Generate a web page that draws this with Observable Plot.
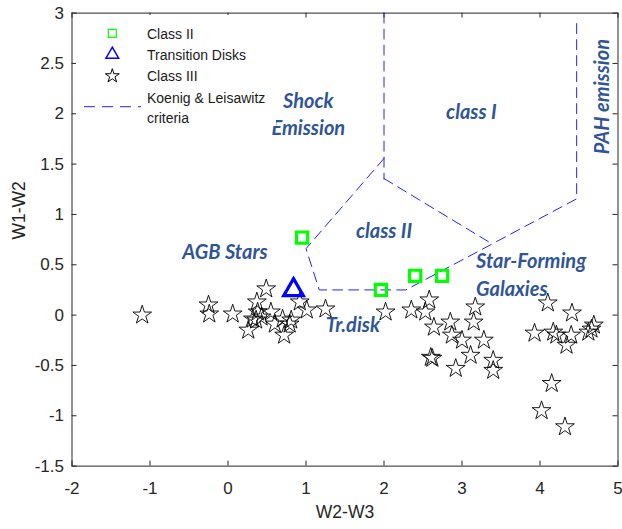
<!DOCTYPE html>
<html><head><meta charset="utf-8">
<script src="https://cdn.jsdelivr.net/npm/d3@7"></script>
<script src="https://cdn.jsdelivr.net/npm/@observablehq/plot@0.6"></script>
<style>body{margin:0;background:#fff} #chart{width:622px;height:529px;position:relative}</style>
</head><body><div id="chart"></div>
<script>
// ---- data ----
const xTicks = [-2, -1, 0, 1, 2, 3, 4, 5];
const xTickLabels = ["-2", "-1", "0", "1", "2", "3", "4", "5"];
const yTicks = [-1.5, -1, -0.5, 0, 0.5, 1, 1.5, 2, 2.5, 3];
const yTickLabels = ["-1.5", "-1", "-0.5", "0", "0.5", "1", "1.5", "2", "2.5", "3"];

const class2X = [0.95, 1.96, 2.40, 2.745];
const class2Y = [0.77, 0.25, 0.39, 0.39];

const tdX = [0.84];
const tdY = [0.25];

const starX = [-1.10, -0.25, -0.24, 0.06, 0.49, 0.37, 0.26, 0.32, 0.38, 0.43, 0.36, 0.55, 0.60, 0.70, 0.72, 0.79, 0.81, 0.92, 1.01, 1.25,
  2.02, 2.35, 2.53, 2.58, 2.64, 2.85, 2.87, 3.00, 3.17, 3.15, 3.28, 3.11, 2.62, 2.60, 2.92, 3.40, 3.40,
  4.10, 4.41, 3.93, 4.17, 4.21, 4.34, 4.40, 4.62, 4.69, 4.66, 4.15, 4.02, 4.32];
const starY = [0.00, 0.10, 0.01, 0.01, 0.26, 0.13, -0.15, -0.04, 0.03, -0.02, -0.05, 0.03, -0.09, -0.04, -0.20, -0.09, -0.05, 0.13, 0.05, 0.06,
  0.03, 0.05, 0.03, 0.15, -0.12, -0.07, -0.20, -0.25, 0.08, -0.07, -0.25, -0.40, -0.43, -0.42, -0.53, -0.45, -0.55,
  0.12, 0.02, -0.18, -0.17, -0.20, -0.30, -0.20, -0.17, -0.10, -0.14, -0.68, -0.95, -1.11];

// Koenig & Leisawitz criteria boundaries (polyline id, x, y)
const lineSeg = [0, 0, 1, 1, 2, 2, 2, 2, 2, 2, 2];
const lineX = [2, 2, 2, 3.38, 2, 1.0, 1.17, 2.28, 3.38, 4.47, 4.47];
const lineY = [3, 1.35, 1.357, 0.71, 1.556, 0.66, 0.25, 0.25, 0.704, 1.155, 2.93];

const regionLabels = ["Shock", "Emission", "class I", "class II", "AGB Stars", "Tr.disk"];
const regionX = [1.03, 1.03, 3.12, 2.0, -0.04, 1.60];
const regionY = [2.12, 1.85, 2.01, 0.83, 0.62, -0.10];
const sfLabels = ["Star-Forming", "Galaxies"];
const sfX = [3.18, 3.18];
const sfY = [0.535, 0.25];
const pahLabel = ["PAH emission"];
const pahX = [4.80];
const pahY = [2.17];

const legendLabels = ["Class II", "Transition Disks", "Class III", "Koenig & Leisawitz", "criteria"];

// ---- chart ----
const W = 622, H = 529;
const mL = 71.5, mR = 4.5, mT = 12.6, mB = 63.4;
const innerW = W - mL - mR, innerH = H - mT - mB;
const axisColor = "#262626";
const labelColor = "#2F5597";
const labelFont = "Lato, 'Open Sans', sans-serif";
const labelSize = 20;

const lineData = lineX.map((x, i) => ({x, y: lineY[i], seg: lineSeg[i]}));
const stars = starX.map((x, i) => ({x, y: starY[i]}));
const c2 = class2X.map((x, i) => ({x, y: class2Y[i]}));
const td = tdX.map((x, i) => ({x, y: tdY[i]}));

const chart = Plot.plot({
  width: W, height: H,
  marginLeft: mL, marginRight: mR, marginTop: mT, marginBottom: mB,
  x: {domain: [-2, 5]},
  y: {domain: [-1.5, 3]},
  style: {background: "#fff", fontFamily: "'Liberation Sans', Arial, sans-serif"},
  marks: [
    Plot.axisX(xTicks, {tickSize: 0, tickPadding: 16, tickFormat: d => xTickLabels[xTicks.indexOf(d)], fontSize: 17, fill: axisColor, label: null}),
    Plot.axisY(yTicks, {tickSize: 0, tickPadding: 8, tickFormat: d => yTickLabels[yTicks.indexOf(d)], fontSize: 17, fill: axisColor, label: null}),
    // inward ticks on all four sides
    Plot.ruleX(xTicks, {x: d => d, insetTop: innerH - 5, stroke: axisColor}),
    Plot.ruleX(xTicks, {x: d => d, insetBottom: innerH - 5, stroke: axisColor}),
    Plot.ruleY(yTicks, {y: d => d, insetRight: innerW - 5, stroke: axisColor}),
    Plot.ruleY(yTicks, {y: d => d, insetLeft: innerW - 5, stroke: axisColor}),
    Plot.line(lineData, {x: "x", y: "y", z: "seg", stroke: "#2222ff", strokeWidth: 1, strokeDasharray: "10,6"}),
    Plot.dot(stars, {x: "x", y: "y", symbol: "star", r: 5.9, stroke: "#000", fill: "none", strokeWidth: 0.9}),
    Plot.dot(c2, {x: "x", y: "y", symbol: "square", r: 6.3, stroke: "#00ff00", fill: "none", strokeWidth: 3.2}),
    Plot.dot(td, {x: "x", y: "y", symbol: "triangle", r: 7.3, stroke: "#0000ff", fill: "none", strokeWidth: 3.2}),
    Plot.text(regionLabels, {x: (d, i) => regionX[i], y: (d, i) => regionY[i], text: d => d, fill: labelColor, fontSize: labelSize, fontWeight: "bold", fontStyle: "italic", fontFamily: labelFont}),
    Plot.text(sfLabels, {x: (d, i) => sfX[i], y: (d, i) => sfY[i], text: d => d, textAnchor: "start", fill: labelColor, fontSize: labelSize, fontWeight: "bold", fontStyle: "italic", fontFamily: labelFont}),
    Plot.text(pahLabel, {x: (d, i) => pahX[i], y: (d, i) => pahY[i], text: d => d, rotate: -90, fill: labelColor, fontSize: labelSize, fontWeight: "bold", fontStyle: "italic", fontFamily: labelFont}),
    Plot.text(["W2-W3"], {frameAnchor: "bottom", dy: 52, text: d => d, fontSize: 17.5, fill: axisColor}),
    Plot.text(["W1-W2"], {frameAnchor: "left", dx: -53, rotate: -90, text: d => d, fontSize: 17.5, fill: axisColor}),
    Plot.frame({stroke: axisColor, strokeWidth: 1})
  ]
});

// ---- legend (drawn on top, white box like the original) ----
const svg = d3.select(chart);
const lg = svg.append("g")
  .attr("font-family", "'Liberation Sans', Arial, sans-serif")
  .attr("font-size", 14)
  .attr("text-anchor", "start")
  .attr("fill", "#1a1a1a");
lg.append("rect").attr("x", 76).attr("y", 15).attr("width", 200).attr("height", 111).attr("fill", "#fff");
const mx = 112.3, tx = 147;
lg.append("path").attr("transform", `translate(${mx},33.3)`).attr("d", d3.symbol(d3.symbolSquare, 64)()).attr("fill", "none").attr("stroke", "#00ff00").attr("stroke-width", 1.2);
lg.append("path").attr("transform", `translate(${mx},54.5)`).attr("d", d3.symbol(d3.symbolTriangle, 70)()).attr("fill", "none").attr("stroke", "#0000ff").attr("stroke-width", 1.5);
lg.append("path").attr("transform", `translate(${mx},76)`).attr("d", d3.symbol(d3.symbolStar, 60)()).attr("fill", "none").attr("stroke", "#000").attr("stroke-width", 1);
lg.append("line").attr("x1", 84).attr("x2", 141).attr("y1", 106.7).attr("y2", 106.7).attr("stroke", "#2222ff").attr("stroke-width", 1).attr("stroke-dasharray", "11,7");
const ly = [34, 55, 76, 98.3, 118.3];
legendLabels.forEach((t, i) => {
  lg.append("text").attr("x", tx).attr("y", ly[i]).attr("dy", "0.35em").attr("text-anchor", "start").text(t);
});

document.getElementById("chart").appendChild(chart);
</script>
</body></html>
